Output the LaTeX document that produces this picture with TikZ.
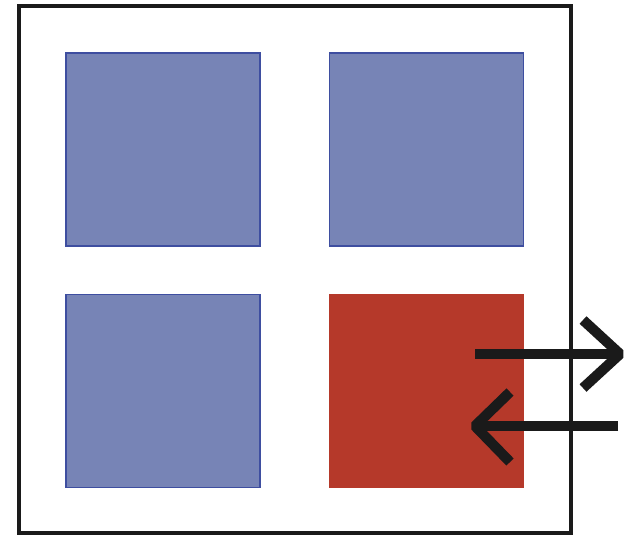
\documentclass[tikz,border=0pt]{standalone}
\usetikzlibrary{positioning, calc}

\definecolor{cellblue}{RGB}{119,132,182}
\definecolor{celledge}{RGB}{62,78,160}
\definecolor{cellred}{RGB}{181,57,42}
\definecolor{inkblack}{RGB}{26,26,26}

\tikzset{
    cell/.style={minimum width=1.94cm, minimum height=1.93cm, inner sep=0pt, draw=celledge, line width=0.45pt},
    flow/.style={inkblack, line width=2.9pt},
}

\begin{document}
\begin{tikzpicture}
    % Canvas
    \useasboundingbox (0,0) rectangle (6.33,5.36);

    % Outer frame
    \draw[inkblack, line width=1.3pt] (0.19,0.03) rectangle (5.71,5.30);

    % Cells
    \node[cell, fill=cellblue] (topleft) at (1.63,3.865) {};
    \node[cell, fill=cellblue, right=0.68cm of topleft] (topright) {};
    \node[cell, fill=cellblue, below=0.47cm of topleft] (bottomleft) {};
    \node[cell, fill=cellred, draw=cellred, below=0.47cm of topright] (bottomright) {};

    % Arrow ends
    \coordinate (OutStart) at (4.75,1.82);
    \coordinate (OutTip) at (6.20,1.82);
    \coordinate (InStart) at (6.18,1.10);
    \coordinate (InTip) at (4.75,1.10);

    % Outgoing arrow
    \draw[flow] (OutStart) -- (OutTip);
    \draw[flow, line join=bevel] ($(OutTip)+(-0.37,0.34)$) -- (OutTip) -- ($(OutTip)+(-0.37,-0.34)$);

    % Incoming arrow
    \draw[flow] (InStart) -- (InTip);
    \draw[flow, line join=bevel] ($(InTip)+(0.35,0.34)$) -- (InTip) -- ($(InTip)+(0.35,-0.36)$);
\end{tikzpicture}
\end{document}
